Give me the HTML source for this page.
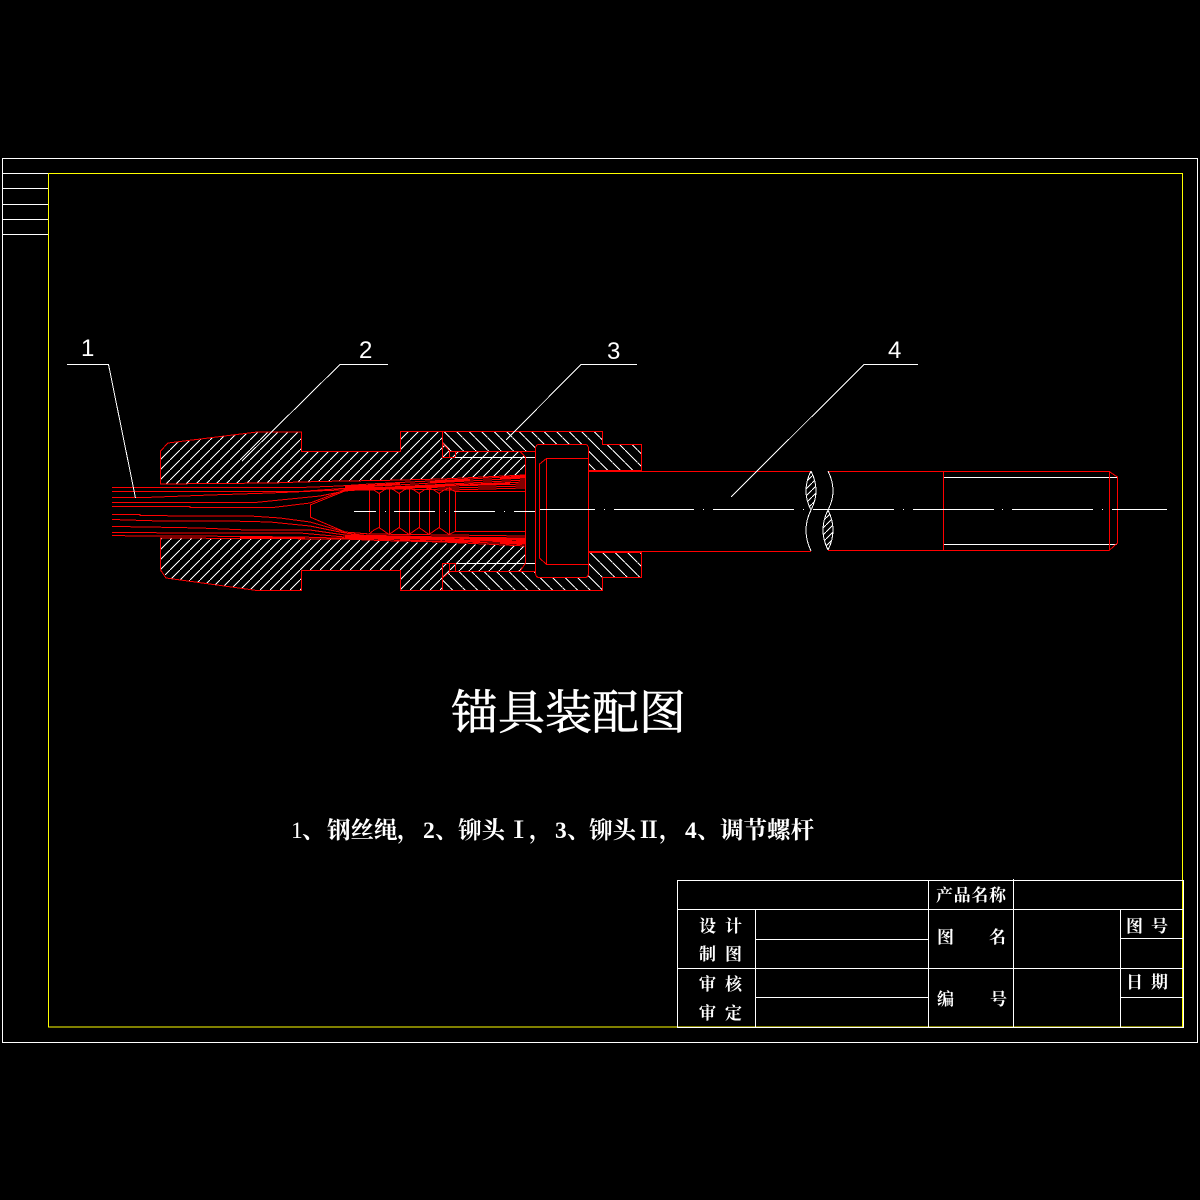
<!DOCTYPE html>
<html><head><meta charset="utf-8"><style>
html,body{margin:0;padding:0;background:#000;width:1200px;height:1200px;overflow:hidden}
svg{display:block}
.c text{font-family:"Liberation Serif","Noto Serif CJK SC",serif;fill:#fff}
.b text{font-size:17px;font-weight:700}
</style></head><body>
<svg class="c" width="1200" height="1200" viewBox="0 0 1200 1200" xmlns="http://www.w3.org/2000/svg">
<defs>
<pattern id="h1" patternUnits="userSpaceOnUse" width="10" height="10"><path d="M-1,11 L11,-1" stroke="#fff" stroke-width="1" shape-rendering="crispEdges"/></pattern>
<pattern id="h2" patternUnits="userSpaceOnUse" width="12.5" height="12.5"><path d="M-1,-1 L13.5,13.5" stroke="#fff" stroke-width="1" shape-rendering="crispEdges"/></pattern>
<pattern id="h3" patternUnits="userSpaceOnUse" width="7" height="7"><path d="M-1,8 L8,-1" stroke="#fff" stroke-width="1" shape-rendering="crispEdges"/></pattern>
</defs>
<rect width="1200" height="1200" fill="#000"/>

<g shape-rendering="crispEdges" fill="none" stroke-width="1">
<!-- frame -->
<rect x="2.5" y="158.5" width="1195" height="884" stroke="#fff"/>
<rect x="48.5" y="173.5" width="1134" height="853.5" stroke="#ff0"/>
<path d="M2.5 173.5H48M2.5 188.5H48M2.5 204.5H48M2.5 219.5H48M2.5 234.5H48" stroke="#fff"/>
<!-- title block -->
<path d="M677.5 880.5H1183.5V1027.5H677.5ZM677.5 909.5H1183M677.5 968.5H1183M755.5 939.5H928M755.5 997.5H928M1120.5 938.5H1183M1120.5 997.5H1183M755.5 909.5V1027M928.5 880.5V1027M1013.5 879V1027M1120.5 909.5V1027" stroke="#fff"/>

<!-- hatch fills -->
<path d="M160 451L168 443L257 432H301V451.5H400V432H442V443L450 452H520L525 457V475L442 479L380 480.5L343 481L300 482L273 483L160 484Z" fill="url(#h1)"/>
<path d="M160 538V570L168 578L257 590H301V570.5H400V590.5H442V578L450 571H520L525 563V546L380 541L343 539Z" fill="url(#h1)"/>
<path d="M442 432H602V444H641V470H588V444H535V452H450L442 443Z" fill="url(#h2)"/>
<path d="M442 578L450 571H535V577H588V551.5H641V577H602V590.5H442Z" fill="url(#h2)"/>
<path d="M811 471Q801 491 811 510Q821 491 811 471Z" fill="url(#h3)"/>
<path d="M828 510Q818 530 828 550Q838 530 828 510Z" fill="url(#h3)"/>

<!-- white inner lines -->
<path d="M455 457.5H535M455 563.5H535M943 477.5H1117M943 544.5H1117" stroke="#fff"/>

<!-- red outlines -->
<g stroke="#f00">
<path d="M160.5 484V451L168 443L257 432H301.5V451.5H400.5V431.5H602.5V444.5H641.5V470.5H588"/>
<path d="M160.5 538V570L166 578L257 590.5H301.5V570.5H400.5V590.5H602.5V577.5H641.5V551.5H588"/>
<path d="M442.5 432V457.5H455M442.5 443L450 451.5H535M520 451.5L525.5 457M449.5 451.5V457M455.5 451.5V457"/>
<path d="M442.5 590V563.5H455M442.5 578L450 571.5H535M520 571.5L525.5 563M449.5 571.5V563M455.5 571.5V563"/>
<path d="M160 484L273 483L300 482L343 481L380 480.5L442 479L525 475"/>
<path d="M160 538L343 539L380 540.5L442 542L525 546"/>
<path d="M525.5 457V563"/>
<!-- bolt head -->
<path d="M535.5 449Q535.5 444.5 539 444.5H585Q588.5 444.5 588.5 449V572Q588.5 577.5 585 577.5H539Q535.5 577.5 535.5 572Z"/>
<path d="M588 458.5H546.5V564.5H588M546.5 458.5L539.5 464V558L546.5 564.5"/>
<!-- shaft -->
<path d="M588 471.5H811M828 471.5H1109L1117.5 477V543L1109 550.5H828M811 551.5H588"/>
<path d="M588 552.5H641M943.5 471V551M1109.5 471V550.5"/>
<!-- core taper -->
<path d="M369.5 490V532M310.5 505V517M310 505L345 491L369 488M310 517L345 532L369 534"/>
<path d="M369 488L374 490L379 493.5L384 490L389 488L394 490L399 493.5L404 490L409 488L414 490L419 493.5L424 490L429 488L434 490L439 493.5L444 490L449 488L455 491.5H525"/>
<path d="M369 534L374 530L379 527.5L384 531L389 534.5L394 531L399 527.5L404 531L409 534.5L414 531L419 527.5L424 531L429 534.5L434 531L439 527.5L444 531L449 534.5L455 531.5H525"/>
<path d="M379.5 493V528M389.5 487V535M399.5 493V528M409.5 487V535M419.5 493V528M429.5 487V535M439.5 493V528M449.5 487V535M455.5 491V532"/>
<!-- wires top -->
<path d="M112 487.5H300L340 486L370 484L450 480L525 476"/>
<path d="M112 491.5H300L370 486.5L450 482L525 478"/>
<path d="M112 497.5H145L210 495L270 493L340 490L370 488L450 484L525 480"/>
<path d="M112 502.5H255L290 499L320 496L345 491L370 489L450 485L525 482"/>
<path d="M112 506.5H190V507.5H273L310 503L345 490L370 490L450 486L525 484"/>
<path d="M345 488L400 487L450 488L525 486"/>
<path d="M345 489L400 489L450 490L525 488"/>
<!-- wires bottom -->
<path d="M112 514.5H140V515.5L195 516L250 516L280 518L310 522L345 532L370 534L450 535L525 536"/>
<path d="M112 519.5L160 521L230 521L270 522L310 526L345 533L370 536L450 537L525 538"/>
<path d="M112 526.5L148 527L200 528L247 530L310 530L345 535L370 537L450 538L525 540"/>
<path d="M112 532.5L200 533L300 533L345 537L370 538L450 540L525 542"/>
<path d="M112 535.5L138 536L190 536L300 537L370 539L450 541.5L525 544"/>
<path d="M345 535L400 536L525 539M345 538L420 539L525 541M370 537L450 539L525 543"/>
</g>
<!-- heavy wire bands -->
<g stroke="#f00" stroke-width="2" fill="none">
<path d="M345 487L400 484M430 482L470 480M500 478L525 477M350 489L368 488M400 487L440 486M470 485L510 483"/>
<path d="M345 536L370 537M395 538L430 538M445 540L480 541M500 543L522 544M240 538H305M410 537L440 537.5M470 539L500 540"/>
</g>
<!-- break curves -->
<path d="M811 471Q821 491 811 510Q801 530 811 551M811 471Q801 491 811 510" stroke="#fff"/>
<path d="M828 471Q838 491 828 510Q818 530 828 550M828 510Q838 530 828 550" stroke="#fff"/>
<!-- centre lines -->
<path d="M354 511.5H376M385 511.5H386M394 511.5H435M445 511.5H446M454 511.5H495M504 511.5H505M514 511.5H535" stroke="#fff"/>
<path d="M540 509.5H595M604 509.5H605M614 509.5H694M703 509.5H704M713 509.5H794M803 509.5H804M813 509.5H894M903 509.5H904M913 509.5H994M1002 509.5H1003M1012 509.5H1093M1102 509.5H1103M1112 509.5H1167" stroke="#fff"/>
<!-- leaders -->
<path d="M67 364.5H108.5L135.5 498M388 364.5H340L242 461M637 364.5H581L506 440M918 364.5H864L731 497" stroke="#fff"/>
</g>

<!-- balloon numbers -->
<text x="81" y="356" font-size="24" style="font-family:'Liberation Sans',sans-serif">1</text>
<text x="359" y="358" font-size="24" style="font-family:'Liberation Sans',sans-serif">2</text>
<text x="607" y="359" font-size="24" style="font-family:'Liberation Sans',sans-serif">3</text>
<text x="888" y="358" font-size="24" style="font-family:'Liberation Sans',sans-serif">4</text>

<!-- title -->
<text x="451" y="729" font-size="47" stroke="#fff" stroke-width="0.6" style="font-family:'Noto Serif CJK SC',serif">锚具装配图</text>

<!-- subtitle -->
<g font-size="23.5" font-weight="700">
<text x="291" y="838" font-weight="400">1</text><text x="302" y="838">、</text><text x="327" y="838">钢丝绳</text><text x="397" y="838">，</text>
<text x="423" y="838">2</text><text x="435" y="838">、</text><text x="458" y="838">铆头</text><text x="507" y="838">Ⅰ</text><text x="529" y="838">，</text>
<text x="555" y="838">3</text><text x="567" y="838">、</text><text x="589" y="838">铆头</text><text x="637" y="838">Ⅱ</text><text x="659" y="838">，</text>
<text x="685" y="838">4</text><text x="697" y="838">、</text><text x="720" y="838">调节螺杆</text>
</g>

<!-- title block text -->
<g class="b">
<text x="936" y="901" textLength="70">产品名称</text>
<text x="699" y="932">设</text><text x="725" y="932">计</text>
<text x="699" y="960">制</text><text x="725" y="960">图</text>
<text x="699" y="990">审</text><text x="725" y="990">核</text>
<text x="699" y="1019">审</text><text x="725" y="1019">定</text>
<text x="937" y="943">图</text><text x="989" y="943">名</text>
<text x="937" y="1005">编</text><text x="990" y="1005">号</text>
<text x="1126" y="932">图</text><text x="1151" y="932">号</text>
<text x="1126" y="988">日</text><text x="1151" y="988">期</text>
</g>
</svg>
</body></html>
